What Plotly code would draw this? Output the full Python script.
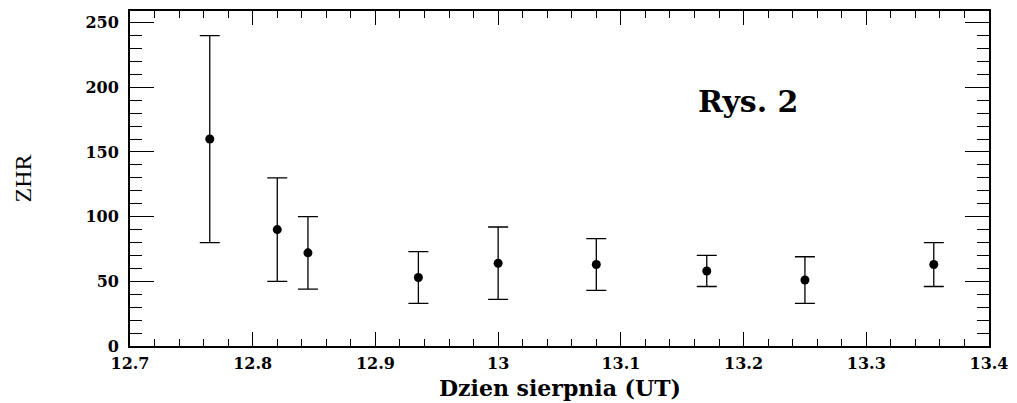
import plotly.graph_objects as go

days = [12.765, 12.82, 12.845, 12.935, 13.0, 13.08, 13.17, 13.25, 13.355]
zhr = [160, 90, 72, 53, 64, 63, 58, 51, 63]
err_hi = [240, 130, 100, 73, 92, 83, 70, 69, 80]
err_lo = [80, 50, 44, 33, 36, 43, 46, 33, 46]

plus = [h - v for h, v in zip(err_hi, zhr)]
minus = [v - l for l, v in zip(err_lo, zhr)]

SERIF = "'DejaVu Serif', serif"

fig = go.Figure()
fig.add_trace(go.Scatter(
    x=days, y=zhr, mode="markers",
    marker=dict(color="black", size=9, symbol="circle"),
    error_y=dict(type="data", symmetric=False, array=plus, arrayminus=minus,
                 color="black", thickness=1.3, width=10),
    showlegend=False,
))

tickfont = dict(family=SERIF, size=16, color="black", weight="bold")

fig.update_xaxes(
    range=[12.7, 13.4], dtick=0.1, tick0=12.7,
    ticks="inside", ticklen=14, tickwidth=1.3, tickcolor="black",
    minor=dict(dtick=0.02, ticks="inside", ticklen=7, tickwidth=1.1, tickcolor="black"),
    showline=True, linecolor="black", linewidth=1.8, mirror="ticks",
    showgrid=False, zeroline=False, tickfont=tickfont, ticklabelstandoff=2,
)
fig.update_yaxes(
    range=[0, 259], dtick=50, tick0=0,
    ticks="inside", ticklen=24, tickwidth=1.3, tickcolor="black",
    minor=dict(dtick=10, ticks="inside", ticklen=12, tickwidth=1.1, tickcolor="black"),
    showline=True, linecolor="black", linewidth=1.8, mirror="ticks",
    showgrid=False, zeroline=False, tickfont=tickfont, ticklabelstandoff=6,
)

fig.update_layout(
    width=1017, height=403,
    margin=dict(l=130, r=24, t=9, b=57),
    plot_bgcolor="white", paper_bgcolor="white",
    annotations=[
        dict(text="Rys. 2", x=13.204, y=189, xref="x", yref="y", showarrow=False,
             font=dict(family=SERIF, size=30, color="black", weight="bold")),
        dict(text="Dzien sierpnia (UT)", xref="paper", yref="paper",
             x=0.5, y=-0.124, yanchor="middle", showarrow=False,
             font=dict(family=SERIF, size=22, color="black", weight="bold")),
        dict(text="ZHR", xref="paper", yref="paper", x=-0.1246, y=0.50,
             xanchor="center", textangle=-90, showarrow=False,
             font=dict(family="Liberation Serif", size=24, color="black")),
    ],
)

fig.write_html("out.html")
